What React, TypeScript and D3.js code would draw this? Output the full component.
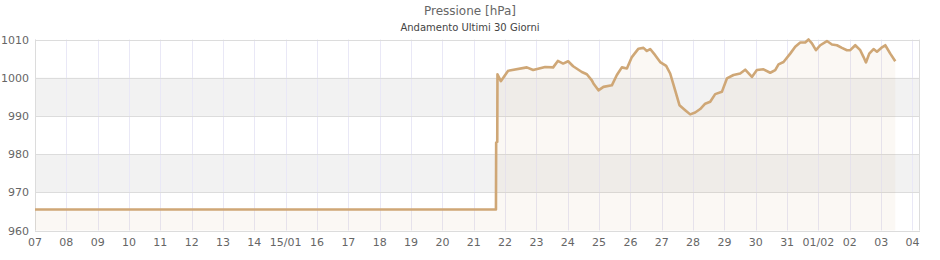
import React from "react";
import * as d3 from "d3";

const title = "Pressione [hPa]";
const subtitle = "Andamento Ultimi 30 Giorni";

const times: string[] = [
  "2025-01-07T00:00", "2025-01-21T17:00", "2025-01-21T17:10", "2025-01-21T18:00", "2025-01-21T18:10",
  "2025-01-21T20:44", "2025-01-22T02:20", "2025-01-22T16:40", "2025-01-22T21:29", "2025-01-23T06:40",
  "2025-01-23T12:48", "2025-01-23T16:24", "2025-01-23T20:27", "2025-01-24T00:17", "2025-01-24T04:07",
  "2025-01-24T10:47", "2025-01-24T14:37", "2025-01-24T18:26", "2025-01-24T19:40", "2025-01-24T23:30",
  "2025-01-25T03:20", "2025-01-25T09:46", "2025-01-25T13:36", "2025-01-25T17:25", "2025-01-25T21:16",
  "2025-01-26T01:05", "2025-01-26T06:09", "2025-01-26T09:59", "2025-01-26T12:35", "2025-01-26T15:07",
  "2025-01-26T18:56", "2025-01-26T22:46", "2025-01-27T03:22", "2025-01-27T06:26", "2025-01-27T10:15",
  "2025-01-27T13:33", "2025-01-27T17:56", "2025-01-27T21:45", "2025-01-28T01:35", "2025-01-28T05:25",
  "2025-01-28T09:14", "2025-01-28T13:05", "2025-01-28T16:54", "2025-01-28T22:02", "2025-01-29T01:52",
  "2025-01-29T06:55", "2025-01-29T12:03", "2025-01-29T15:53", "2025-01-29T21:01", "2025-01-30T00:50",
  "2025-01-30T05:54", "2025-01-30T11:02", "2025-01-30T14:53", "2025-01-30T17:24", "2025-01-30T21:14",
  "2025-01-31T02:21", "2025-01-31T06:12", "2025-01-31T10:02", "2025-01-31T13:51", "2025-01-31T16:23",
  "2025-01-31T18:59", "2025-01-31T22:03", "2025-02-01T01:21", "2025-02-01T06:29", "2025-02-01T10:19",
  "2025-02-01T14:08", "2025-02-01T17:58", "2025-02-01T21:49", "2025-02-02T00:20", "2025-02-02T04:10",
  "2025-02-02T08:00", "2025-02-02T10:32", "2025-02-02T12:22", "2025-02-02T14:53", "2025-02-02T18:11",
  "2025-02-02T20:47", "2025-02-03T00:05", "2025-02-03T03:09", "2025-02-03T06:59", "2025-02-03T10:49",
];

const pressure: number[] = [
  965.5, 965.5, 983.0, 983.2, 1000.9,
  999.1, 1001.8, 1002.7, 1002.0, 1002.8,
  1002.7, 1004.4, 1003.7, 1004.3, 1003.0,
  1001.5, 1000.9, 999.3, 998.5, 996.7,
  997.6, 998.0, 1000.7, 1002.7, 1002.4,
  1005.4, 1007.6, 1007.8, 1007.0, 1007.5,
  1005.9, 1004.1, 1003.1, 1001.1, 996.7,
  992.8, 991.5, 990.4, 990.9, 991.8,
  993.2, 993.7, 995.7, 996.3, 999.8,
  1000.7, 1001.1, 1002.1, 1000.2, 1002.0,
  1002.2, 1001.3, 1002.0, 1003.5, 1004.1,
  1006.3, 1008.1, 1009.2, 1009.2, 1010.0,
  1009.0, 1007.2, 1008.5, 1009.6, 1008.7,
  1008.5, 1007.8, 1007.2, 1007.2, 1008.5,
  1007.2, 1005.4, 1004.0, 1006.3, 1007.5,
  1006.8, 1007.8, 1008.5, 1006.3, 1004.3,
];

const xTickDates: string[] = [
  "2025-01-07", "2025-01-08", "2025-01-09", "2025-01-10", "2025-01-11", "2025-01-12", "2025-01-13",
  "2025-01-14", "2025-01-15", "2025-01-16", "2025-01-17", "2025-01-18", "2025-01-19", "2025-01-20",
  "2025-01-21", "2025-01-22", "2025-01-23", "2025-01-24", "2025-01-25", "2025-01-26", "2025-01-27",
  "2025-01-28", "2025-01-29", "2025-01-30", "2025-01-31", "2025-02-01", "2025-02-02", "2025-02-03",
  "2025-02-04",
];
const xTickLabels: string[] = [
  "07", "08", "09", "10", "11", "12", "13", "14", "15/01", "16", "17", "18", "19", "20", "21",
  "22", "23", "24", "25", "26", "27", "28", "29", "30", "31", "01/02", "02", "03", "04",
];
const yTicks: number[] = [960, 970, 980, 990, 1000, 1010];
const bands: [number, number][] = [[970, 980], [990, 1000]];

const xDomain = ["2025-01-07T00:00", "2025-02-04T05:45"];
const yDomain: [number, number] = [960, 1010];

const W = 940, H = 260;
const M = { left: 35, right: 20, top: 39.5, bottom: 29.5 };

export default function App() {
  const parse = d3.timeParse("%Y-%m-%dT%H:%M");
  const parseDay = d3.timeParse("%Y-%m-%d");
  const data = times.map((t, i) => ({ t: parse(t) as Date, v: pressure[i] }));
  const x = d3.scaleTime()
    .domain([parse(xDomain[0]) as Date, parse(xDomain[1]) as Date])
    .range([M.left, W - M.right]);
  const y = d3.scaleLinear().domain(yDomain).range([H - M.bottom, M.top]);
  const line = d3.line<{ t: Date; v: number }>().x(d => x(d.t)).y(d => y(d.v));
  const area = d3.area<{ t: Date; v: number }>().x(d => x(d.t)).y0(y(yDomain[0])).y1(d => y(d.v));
  const font = "'DejaVu Sans', sans-serif";
  const x0 = M.left, x1 = W - M.right;

  return (
    <svg width={W} height={H} style={{ position: "absolute", left: 0, top: 0, background: "#fff" }}>
      <text x={W / 2} y={15} textAnchor="middle" fontFamily={font} fontSize={12} fill="#666">{title}</text>
      <text x={W / 2} y={31} textAnchor="middle" fontFamily={font} fontSize={10} fill="#444">{subtitle}</text>
      {bands.map((b, i) => (
        <rect key={i} x={x0} width={x1 - x0} y={y(b[1])} height={y(b[0]) - y(b[1])} fill="#f2f2f2" />
      ))}
      {xTickDates.map((d, i) => {
        const xx = Math.round(x(parseDay(d) as Date)) + 0.5;
        return <line key={i} x1={xx} x2={xx} y1={M.top} y2={H - M.bottom} stroke="#e9e8f6" strokeWidth={1} />;
      })}
      {yTicks.map((t, i) => {
        const yy = Math.round(y(t)) + 0.5;
        return <line key={i} x1={x0} x2={x1} y1={yy} y2={yy} stroke="#dcdcdc" strokeWidth={1} />;
      })}
      <line x1={x0 + 0.5} x2={x0 + 0.5} y1={M.top} y2={H - M.bottom} stroke="#dcdcdc" />
      <line x1={x1 - 0.5} x2={x1 - 0.5} y1={M.top} y2={H - M.bottom} stroke="#dcdcdc" />
      <path d={area(data) || ""} fill="rgba(205,160,110,0.08)" />
      <path d={line(data) || ""} fill="none" stroke="#cfa776" strokeWidth={2.6} strokeLinejoin="round" />
      {yTicks.map((t, i) => (
        <text key={i} x={29} y={y(t) + 4} textAnchor="end" fontFamily={font} fontSize={11} fill="#666">{t}</text>
      ))}
      {xTickDates.map((d, i) => (
        <text key={i} x={x(parseDay(d) as Date)} y={246} textAnchor="middle" fontFamily={font} fontSize={11} fill="#666">{xTickLabels[i]}</text>
      ))}
    </svg>
  );
}
